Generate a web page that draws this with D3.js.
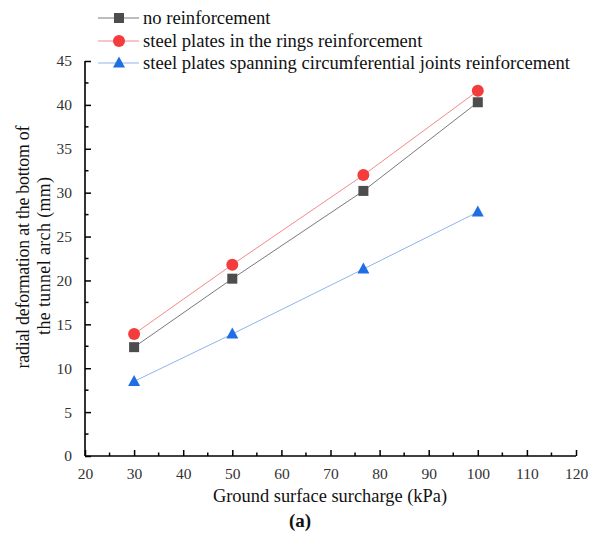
<!DOCTYPE html>
<html><head><meta charset="utf-8">
<script src="https://cdn.jsdelivr.net/npm/d3@7"></script>
<style>body{margin:0;background:#fff}svg{display:block}text{font-family:"Liberation Serif","Times New Roman",serif}</style>
</head><body><svg id="c" width="590" height="536"></svg>
<script>
const xValues = [30, 50, 76.7, 100];
const noReinforcement = [12.4, 20.2, 30.2, 40.3];
const steelRings = [13.9, 21.8, 32.0, 41.6];
const steelSpanning = [8.5, 13.9, 21.3, 27.8];
const seriesNames = ["no reinforcement", "steel plates in the rings reinforcement", "steel plates spanning circumferential joints reinforcement"];
const xTicks = [20,30,40,50,60,70,80,90,100,110,120];
const yTicks = [0,5,10,15,20,25,30,35,40,45];

const svg = d3.select("#c");
const x = d3.scaleLinear().domain([20,120]).range([85,576]);
const y = d3.scaleLinear().domain([0,45]).range([456,61]);

const series = [
  {name: seriesNames[0], vals: noReinforcement, line: "#7a7a7a", fill: "#4d4d4d", shape: "square"},
  {name: seriesNames[1], vals: steelRings, line: "#f38a8a", fill: "#f43c3c", shape: "circle"},
  {name: seriesNames[2], vals: steelSpanning, line: "#8fb4ee", fill: "#1f6fe3", shape: "triangle"}
];

const xAxis = d3.axisBottom(x).tickValues(xTicks).tickSize(6).tickPadding(6).tickFormat(d3.format("d"));
const yAxis = d3.axisLeft(y).tickValues(yTicks).tickSize(6).tickPadding(7).tickFormat(d3.format("d"));
const gx = svg.append("g").attr("transform","translate(0,456)").call(xAxis);
const gy = svg.append("g").attr("transform","translate(85,0)").call(yAxis);
const xMinor = d3.range(25,120,10);
const yMinor = d3.range(2.5,45,5);
gx.selectAll(".minor").data(xMinor).enter().append("line").attr("class","minor").attr("x1",d=>x(d)).attr("x2",d=>x(d)).attr("y1",0).attr("y2",-3.5).attr("stroke","#000").attr("stroke-width",1.5);
gy.selectAll(".minor").data(yMinor).enter().append("line").attr("class","minor").attr("y1",d=>y(d)).attr("y2",d=>y(d)).attr("x1",0).attr("x2",3.5).attr("stroke","#000").attr("stroke-width",1.5);
[gx,gy].forEach(g=>{
  g.attr("font-family","Liberation Serif").attr("font-size",15.5);
  g.select(".domain").attr("stroke-width",1.6).attr("stroke","#000");
  g.selectAll(".tick line").attr("stroke-width",1.5);
  g.selectAll(".tick text").attr("font-size",15.5).attr("fill","#333");
});
gx.selectAll(".tick line").attr("y2",-6);
gy.selectAll(".tick line").attr("x2",6);
gx.select(".domain").attr("d","M85,0H576");
gy.select(".domain").attr("d","M0,456V61");

function marker(g, shape, cx, cy, fill){
  if(shape==="square") g.append("rect").attr("x",cx-5).attr("y",cy-5).attr("width",10).attr("height",10).attr("fill",fill);
  else if(shape==="circle") g.append("circle").attr("cx",cx).attr("cy",cy).attr("r",6).attr("fill",fill);
  else g.append("path").attr("d",`M${cx},${cy-6.5}L${cx+6},${cy+4.5}L${cx-6},${cy+4.5}Z`).attr("fill",fill);
}

const line = d3.line().x(d=>x(d[0])).y(d=>y(d[1]));
series.forEach(s=>{
  const pts = xValues.map((xv,i)=>[xv,s.vals[i]]);
  svg.append("path").attr("d",line(pts)).attr("fill","none").attr("stroke",s.line).attr("stroke-width",1);
  const g = svg.append("g");
  pts.forEach(p=>marker(g,s.shape,x(p[0]),y(p[1]),s.fill));
});

const legY = [18,41,63];
series.forEach((s,i)=>{
  svg.append("line").attr("x1",98).attr("x2",139).attr("y1",legY[i]).attr("y2",legY[i]).attr("stroke",s.line).attr("stroke-width",1);
  marker(svg,s.shape,119,legY[i],s.fill);
  svg.append("text").attr("x",143).attr("y",legY[i]+6).attr("font-size",18.6).attr("fill","#111").text(s.name);
});

svg.append("text").attr("x",330).attr("y",502).attr("text-anchor","middle").attr("font-size",18.4).attr("fill","#111").text("Ground surface surcharge (kPa)");
svg.append("text").attr("x",300).attr("y",527).attr("text-anchor","middle").attr("font-size",19).attr("font-weight","bold").attr("fill","#111").text("(a)");
svg.append("text").attr("transform","translate(29,247) rotate(-90)").attr("text-anchor","middle").attr("font-size",17.8).attr("fill","#111")
  .attr("textLength",243).attr("lengthAdjust","spacing").text("radial deformation at the bottom of");
svg.append("text").attr("transform","translate(50,256) rotate(-90)").attr("text-anchor","middle").attr("font-size",17.8).attr("fill","#111")
  .attr("textLength",158).attr("lengthAdjust","spacing").text("the tunnel arch (mm)");
</script></body></html>
